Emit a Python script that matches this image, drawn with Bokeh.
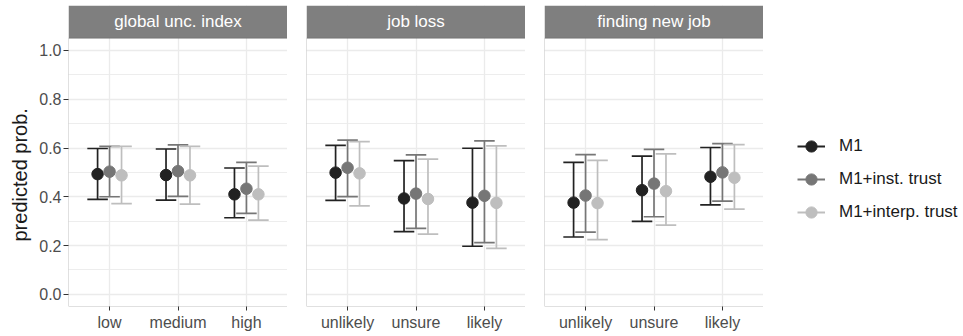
import numpy as np
from bokeh.plotting import figure
from bokeh.layouts import row
from bokeh.models import (ColumnDataSource, FixedTicker, PrintfTickFormatter, Range1d,
                          BoxAnnotation, Legend, LegendItem, Title)
from bokeh.embed import file_html
from bokeh.resources import INLINE
from bokeh.core.properties import value

FONT = "Liberation Sans"

# ---------------- data ----------------
series_names = ["M1", "M1+inst. trust", "M1+interp. trust"]
series_colors = ["#222222", "#767676", "#bebebe"]
panel_titles = ["global unc. index", "job loss", "finding new job"]
y_title = "predicted prob."

cats_global = ["low", "medium", "high"]
cats_jobloss = ["unlikely", "unsure", "likely"]
cats_newjob = ["unlikely", "unsure", "likely"]

# rows: M1, M1+inst. trust, M1+interp. trust
global_est = [[0.493, 0.489, 0.410], [0.503, 0.505, 0.433], [0.488, 0.488, 0.410]]
global_lo = [[0.389, 0.386, 0.314], [0.400, 0.402, 0.332], [0.372, 0.370, 0.304]]
global_hi = [[0.598, 0.596, 0.518], [0.607, 0.613, 0.541], [0.607, 0.607, 0.526]]

jobloss_est = [[0.499, 0.393, 0.376], [0.519, 0.413, 0.404], [0.496, 0.391, 0.375]]
jobloss_lo = [[0.385, 0.257, 0.197], [0.401, 0.270, 0.212], [0.363, 0.247, 0.188]]
jobloss_hi = [[0.611, 0.548, 0.599], [0.632, 0.572, 0.629], [0.626, 0.554, 0.609]]

newjob_est = [[0.376, 0.427, 0.482], [0.405, 0.454, 0.500], [0.374, 0.423, 0.478]]
newjob_lo = [[0.235, 0.299, 0.367], [0.255, 0.318, 0.382], [0.224, 0.284, 0.349]]
newjob_hi = [[0.541, 0.567, 0.602], [0.573, 0.594, 0.618], [0.549, 0.576, 0.614]]

y_ticks = [0.0, 0.2, 0.4, 0.6, 0.8, 1.0]
y_minor = [0.1, 0.3, 0.5, 0.7, 0.9]

# ---------------- geometry / style ----------------
FRAME_W = 219
LEFT_PAD = 68
GAP = 19
TOP_PAD = 5
BOTTOM_PAD = 25
FIG_H = 333
STRIP_PX = 33
PANEL_PX = FIG_H - TOP_PAD - BOTTOM_PAD - STRIP_PX
Y_LO, Y_HI = -0.05, 1.05
Y_END = Y_HI + STRIP_PX * (Y_HI - Y_LO) / PANEL_PX
X_LO, X_HI = 0.4, 3.6
DODGE = [-0.175, 0.0, 0.175]
CAP = 0.15
GRID = "#ebebeb"


def make_panel(idx, title, cats, est, lo, hi):
    first = idx == 0
    p = figure(width=(LEFT_PAD if first else GAP) + FRAME_W, height=FIG_H,
               x_range=Range1d(X_LO, X_HI), y_range=Range1d(Y_LO, Y_END),
               output_backend="svg", toolbar_location=None,
               y_axis_location="left" if first else None,
               min_border_left=LEFT_PAD if first else GAP, min_border_right=0,
               min_border_top=TOP_PAD, min_border_bottom=BOTTOM_PAD,
               outline_line_color=None, background_fill_color="white",
               border_fill_color="white")
    positions = [i + 1 for i in range(len(cats))]

    # grids
    p.xgrid.ticker = FixedTicker(ticks=positions)
    p.xgrid.grid_line_color = GRID
    p.xgrid.grid_line_width = 1.3
    p.ygrid.ticker = FixedTicker(ticks=y_ticks, minor_ticks=y_minor)
    p.ygrid.grid_line_color = GRID
    p.ygrid.grid_line_width = 1.3
    p.ygrid.minor_grid_line_color = GRID
    p.ygrid.minor_grid_line_width = 0.9

    # x axis
    p.xaxis.ticker = FixedTicker(ticks=positions)
    p.xaxis.major_label_overrides = {pos: c for pos, c in zip(positions, cats)}
    p.xaxis.axis_line_color = None
    p.xaxis.major_tick_line_color = "#333333"
    p.xaxis.major_tick_out = 4
    p.xaxis.major_tick_in = 0
    p.xaxis.minor_tick_line_color = None
    p.xaxis.major_label_standoff = 3
    p.xaxis.major_label_text_font = FONT
    p.xaxis.major_label_text_font_size = "16px"
    p.xaxis.major_label_text_color = "#4d4d4d"

    if first:
        p.yaxis.ticker = FixedTicker(ticks=y_ticks, minor_ticks=y_minor)
        p.yaxis.formatter = PrintfTickFormatter(format="%.1f")
        p.yaxis.axis_line_color = None
        p.yaxis.major_tick_line_color = "#333333"
        p.yaxis.major_tick_out = 5
        p.yaxis.major_tick_in = 0
        p.yaxis.minor_tick_line_color = None
        p.yaxis.major_label_standoff = 2
        p.yaxis.major_label_text_font = FONT
        p.yaxis.major_label_text_font_size = "16px"
        p.yaxis.major_label_text_color = "#4d4d4d"
        # y title centred on the panel area (below the strip)
        p.add_layout(Title(text=y_title, align="left", offset=65,
                           vertical_align="bottom", standoff=12,
                           text_font=FONT, text_font_size="20px",
                           text_font_style="normal", text_color="#1a1a1a"), "left")

    # strip
    p.quad(left=[X_LO], right=[X_HI], bottom=[Y_HI], top=[Y_END],
           fill_color="#7f7f7f", line_color=None)
    p.text(x=[(X_LO + X_HI) / 2], y=[(Y_HI + Y_END) / 2], text=[title],
           text_font=value(FONT), text_font_size="17px", text_color="white",
           text_align="center", text_baseline="middle")

    # panel border
    p.add_layout(BoxAnnotation(bottom=Y_LO, top=Y_HI, fill_color=None,
                               line_color="#333333", line_width=1))

    sources = []
    for s in range(len(series_names)):
        xs = [pos + DODGE[s] for pos in positions]
        src = ColumnDataSource(dict(
            x=xs, est=est[s], lo=lo[s], hi=hi[s],
            cl=[x - CAP for x in xs], cr=[x + CAP for x in xs]))
        sources.append(src)
        c = series_colors[s]
        p.segment(x0="x", y0="lo", x1="x", y1="hi", source=src, line_color=c, line_width=1.7)
        p.segment(x0="cl", y0="lo", x1="cr", y1="lo", source=src, line_color=c, line_width=1.7)
        p.segment(x0="cl", y0="hi", x1="cr", y1="hi", source=src, line_color=c, line_width=1.7)
    for s, src in enumerate(sources):
        p.scatter(x="x", y="est", source=src, size=11.5, fill_color=series_colors[s],
                  line_color=series_colors[s])
    return p


p1 = make_panel(0, panel_titles[0], cats_global, global_est, global_lo, global_hi)
p2 = make_panel(1, panel_titles[1], cats_jobloss, jobloss_est, jobloss_lo, jobloss_hi)
p3 = make_panel(2, panel_titles[2], cats_newjob, newjob_est, newjob_lo, newjob_hi)

# ---------------- legend ----------------
LEG_W = 963 - p1.width - p2.width - p3.width
lf = figure(width=LEG_W, height=FIG_H, x_range=Range1d(0, 1), y_range=Range1d(0, 1),
            output_backend="svg", toolbar_location=None,
            x_axis_location=None, y_axis_location=None,
            min_border=0, outline_line_color=None, border_fill_color="white")
lf.xgrid.visible = False
lf.ygrid.visible = False
items = []
for name, c in zip(series_names, series_colors):
    src = ColumnDataSource(dict(x=[np.nan], y=[np.nan]))
    rl = lf.line("x", "y", source=src, line_color=c, line_width=2)
    rp = lf.scatter("x", "y", source=src, size=11, fill_color=c, line_color=c)
    items.append(LegendItem(label=name, renderers=[rl, rp]))
leg = Legend(items=items, location=(34, 80), orientation="vertical",
             border_line_color=None, background_fill_alpha=0,
             padding=0, margin=0, spacing=5,
             glyph_width=28, glyph_height=28, label_height=28, label_standoff=14,
             label_text_font=FONT, label_text_font_size="17px",
             label_text_color="#1a1a1a")
lf.add_layout(leg)

layout = row(p1, p2, p3, lf)
open("out.html", "w").write(file_html(layout, INLINE))
